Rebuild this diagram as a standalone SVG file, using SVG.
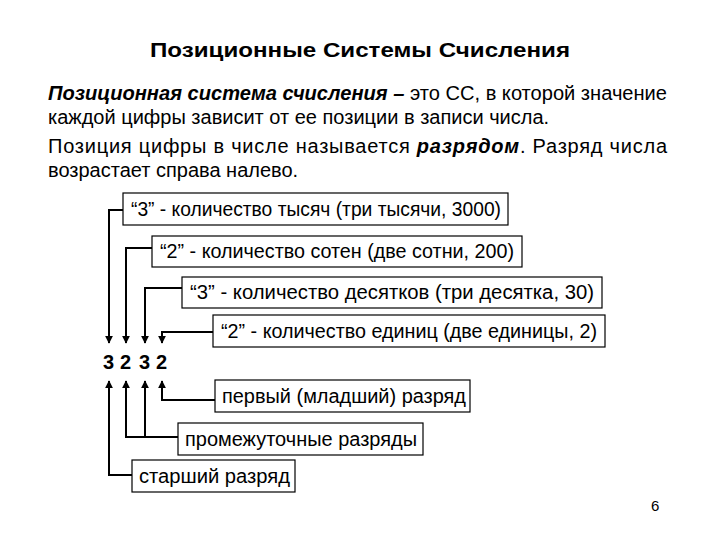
<svg xmlns="http://www.w3.org/2000/svg" width="720" height="540" viewBox="0 0 720 540">
<style>
text{font-family:"Liberation Sans",Arial,sans-serif;fill:#000}
.t{font-size:20px}
.b{font-size:19.5px}
rect{fill:#fff;stroke:#000;stroke-width:1.2}
.c path{fill:none;stroke:#000;stroke-width:2}
</style>
<defs><marker id="a" viewBox="0 0 10 10" refX="9" refY="5" markerWidth="4" markerHeight="4" orient="auto"><path d="M0,0L10,5L0,10z" fill="#000"/></marker></defs>
<rect x="0" y="0" width="720" height="540" style="stroke:none"/>
<text x="360" y="57" text-anchor="middle" font-size="21" font-weight="bold" textLength="420" lengthAdjust="spacingAndGlyphs">Позиционные Системы Счисления</text>
<text class="t" x="48" y="100" textLength="619" lengthAdjust="spacingAndGlyphs"><tspan font-weight="bold" font-style="italic">Позиционная система счисления – </tspan>это СС, в которой значение</text>
<text class="t" x="48" y="124">каждой цифры зависит от ее позиции в записи числа.</text>
<text class="t" x="48" y="153" textLength="619" lengthAdjust="spacing">Позиция цифры в числе называется <tspan font-weight="bold" font-style="italic">разрядом</tspan>. Разряд числа</text>
<text class="t" x="48" y="177">возрастает справа налево.</text>
<g class="c">
<path d="M123,210H109V343" marker-end="url(#a)"/>
<path d="M152,248H126V343" marker-end="url(#a)"/>
<path d="M182,288H145V343" marker-end="url(#a)"/>
<path d="M213,332H162V343" marker-end="url(#a)"/>
<path d="M215,400H162V381" marker-end="url(#a)"/>
<path d="M178,437H126V381" marker-end="url(#a)"/>
<path d="M145,437V381" marker-end="url(#a)"/>
<path d="M132,475H109V381" marker-end="url(#a)"/>
</g>
<g id="n1"><rect x="123" y="193" width="385" height="32"/><text class="b" x="131" y="216" textLength="370" lengthAdjust="spacingAndGlyphs">“3” - количество тысяч (три тысячи, 3000)</text></g>
<g id="n2"><rect x="152" y="236" width="370" height="31"/><text class="b" x="160" y="258" textLength="354" lengthAdjust="spacingAndGlyphs">“2” - количество сотен (две сотни, 200)</text></g>
<g id="n3"><rect x="182" y="277" width="420" height="31"/><text class="b" x="190" y="299" textLength="404" lengthAdjust="spacingAndGlyphs">“3” - количество десятков (три десятка, 30)</text></g>
<g id="n4"><rect x="213" y="315" width="392" height="32"/><text class="b" x="221" y="338" textLength="376" lengthAdjust="spacingAndGlyphs">“2” - количество единиц (две единицы, 2)</text></g>
<g id="digits" font-size="20" font-weight="bold"><text x="103" y="369">3</text><text x="120" y="369">2</text><text x="139" y="369">3</text><text x="156" y="369">2</text></g>
<g id="n5"><rect x="215" y="380" width="255" height="32"/><text class="b" x="222" y="403" textLength="244" lengthAdjust="spacingAndGlyphs">первый (младший) разряд</text></g>
<g id="n6"><rect x="178" y="423" width="245" height="32"/><text class="b" x="185" y="446" textLength="232" lengthAdjust="spacingAndGlyphs">промежуточные разряды</text></g>
<g id="n7"><rect x="132" y="460" width="163" height="32"/><text class="b" x="139" y="483" textLength="151" lengthAdjust="spacingAndGlyphs">старший разряд</text></g>
<text x="651" y="511" font-size="15">6</text>
</svg>
